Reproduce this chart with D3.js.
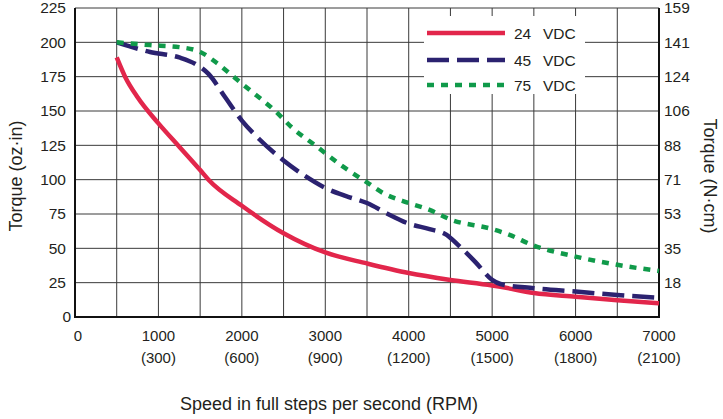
<!DOCTYPE html>
<html>
<head>
<meta charset="utf-8">
<script src="https://cdn.jsdelivr.net/npm/d3@7"></script>
<style>
  body { margin: 0; background: #fff; }
  text { font-family: "Liberation Sans", Arial, sans-serif; fill: #231f20; }
</style>
</head>
<body>
<div id="chart"></div>
<script>
var width = 723;
var height = 419;
var margin = { top: 8, right: 64, bottom: 102, left: 75 }; // plot area 75..659 x 8..317

// speed in full steps per second, torque in oz·in
var speeds24 = [500, 600, 750, 1000, 1250, 1500, 1600, 2000, 2500, 3000, 3500, 4000, 4500, 5000, 5100, 5500, 6000, 6500, 7000];
var torque24 = [189, 175, 160, 141, 124, 107, 100, 81, 61, 47, 39, 32, 27, 23, 22, 17.5, 14.8, 12.2, 10];

var speeds45 = [500, 900, 1250, 1450, 1600, 1800, 2000, 2200, 2500, 2750, 3000, 3250, 3500, 3750, 4000, 4250, 4450, 4600, 4800, 5000, 5100, 5500, 6000, 6500, 7000];
var torque45 = [200, 193, 189, 184, 177, 160, 143, 130, 114, 103, 94, 88, 83, 75, 68, 64, 60, 52, 40, 27, 24, 21, 18.5, 16, 14];

var speeds75 = [500, 900, 1250, 1500, 1700, 1900, 2100, 2400, 2600, 2900, 3200, 3500, 3700, 4000, 4250, 4500, 5000, 5200, 5500, 6000, 6500, 7000];
var torque75 = [200, 198, 196.5, 193, 185, 175, 165, 150, 138, 124, 110, 98, 90, 83, 78, 71, 64, 60, 52, 44, 38, 33.5];

var seriesNames = ["24  VDC", "45  VDC", "75  VDC"];
var seriesColors = ["#e2264b", "#2b2270", "#109a4a"];
var seriesDash = [null, "22,8", "7,7"];

var xTicks = [0, 1000, 2000, 3000, 4000, 5000, 6000, 7000];
var xGrid = d3.range(0, 7001, 500);
var yTicks = [0, 25, 50, 75, 100, 125, 150, 175, 200, 225];
var ozinToNcm = 0.70616;

var svg = d3.select("#chart").append("svg")
    .attr("width", width)
    .attr("height", height);

var x = d3.scaleLinear().domain([0, 7000]).range([margin.left, width - margin.right]);
var y = d3.scaleLinear().domain([0, 225]).range([height - margin.bottom, margin.top]);
var yRight = d3.scaleLinear().domain([0, 225 * ozinToNcm]).range(y.range());

// grid
var grid = svg.append("g").attr("stroke", "#3a3a3a").attr("stroke-width", 1);
grid.selectAll(".vg").data(xGrid).enter().append("line")
    .attr("x1", d => x(d)).attr("x2", d => x(d))
    .attr("y1", y(0)).attr("y2", y(225));
grid.selectAll(".hg").data(yTicks).enter().append("line")
    .attr("x1", x(0)).attr("x2", x(7000))
    .attr("y1", d => y(d)).attr("y2", d => y(d));

// legend background covers the grid
var lg = svg.append("g");
lg.append("rect")
    .attr("x", 424).attr("y", 16)
    .attr("width", 161).attr("height", 78)
    .attr("fill", "#fff");

// frame
svg.append("line").attr("x1", x(0)).attr("x2", x(0)).attr("y1", y(0) + 1).attr("y2", y(225))
    .attr("stroke", "#111").attr("stroke-width", 2);
svg.append("line").attr("x1", x(7000)).attr("x2", x(7000)).attr("y1", y(0) + 1).attr("y2", y(225))
    .attr("stroke", "#111").attr("stroke-width", 2);
svg.append("line").attr("x1", x(0) - 1).attr("x2", x(7000) + 1).attr("y1", y(0)).attr("y2", y(0))
    .attr("stroke", "#111").attr("stroke-width", 2.2);

// curves
var line = d3.line()
    .x(d => x(d[0]))
    .y(d => y(d[1]))
    .curve(d3.curveMonotoneX);

var series = [
    d3.zip(speeds24, torque24),
    d3.zip(speeds45, torque45),
    d3.zip(speeds75, torque75)
];

svg.selectAll(".curve")
    .data(series)
    .enter()
    .append("path")
    .attr("class", "curve")
    .attr("d", line)
    .attr("fill", "none")
    .attr("stroke", (d, i) => seriesColors[i])
    .attr("stroke-width", 4.5)
    .attr("stroke-dasharray", (d, i) => seriesDash[i]);

// left axis labels
svg.selectAll(".yl").data(yTicks).enter().append("text")
    .attr("x", d => d === 0 ? 71 : 66)
    .attr("y", d => y(d))
    .attr("dy", "0.35em")
    .attr("text-anchor", "end")
    .attr("font-size", 15.5)
    .text(d => d);

// right axis labels
svg.selectAll(".yr").data(yTicks.filter(d => d > 0)).enter().append("text")
    .attr("x", 664)
    .attr("y", d => yRight(d * ozinToNcm))
    .attr("dy", "0.35em")
    .attr("font-size", 15.5)
    .text(d => d3.format(".0f")(d * ozinToNcm));

// bottom labels
var xl = svg.selectAll(".xl").data(xTicks).enter().append("g")
    .attr("transform", d => "translate(" + (d === 0 ? x(d) + 3 : x(d)) + ",0)");
xl.append("text")
    .attr("y", 336).attr("dy", "0.35em")
    .attr("text-anchor", "middle")
    .attr("font-size", 15)
    .text(d => d);
xl.filter(d => d > 0).append("text")
    .attr("y", 358).attr("dy", "0.35em")
    .attr("text-anchor", "middle")
    .attr("font-size", 15)
    .text(d => "(" + d * 0.3 + ")");

// axis titles
svg.append("text")
    .attr("transform", "translate(16,176) rotate(-90)")
    .attr("text-anchor", "middle")
    .attr("dy", "0.35em")
    .attr("font-size", 18)
    .text("Torque (oz·in)");
svg.append("text")
    .attr("transform", "translate(710,176) rotate(90)")
    .attr("text-anchor", "middle")
    .attr("dy", "0.35em")
    .attr("font-size", 18)
    .text("Torque (N·cm)");
svg.append("text")
    .attr("x", 329).attr("y", 404)
    .attr("dy", "0.35em")
    .attr("text-anchor", "middle")
    .attr("font-size", 18)
    .text("Speed in full steps per second (RPM)");

// legend
var legendY = [33, 60, 85];
seriesNames.forEach(function (name, i) {
    lg.append("line")
        .attr("x1", 427).attr("x2", 505)
        .attr("y1", legendY[i]).attr("y2", legendY[i])
        .attr("stroke", seriesColors[i])
        .attr("stroke-width", 4.5)
        .attr("stroke-dasharray", seriesDash[i]);
    var parts = name.split("  ");
    lg.append("text").attr("x", 514).attr("y", legendY[i] + 1).attr("dy", "0.35em")
        .attr("font-size", 15.5).text(parts[0]);
    lg.append("text").attr("x", 543).attr("y", legendY[i] + 1).attr("dy", "0.35em")
        .attr("font-size", 15.5).text(parts[1]);
});
</script>
</body>
</html>
